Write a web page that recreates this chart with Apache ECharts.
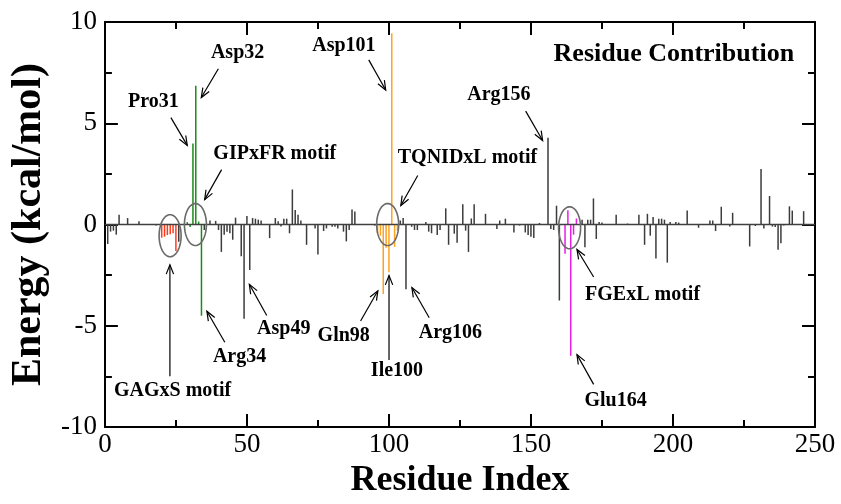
<!DOCTYPE html>
<html><head><meta charset="utf-8">
<script src="https://cdn.jsdelivr.net/npm/echarts@6/dist/echarts.min.js"></script>
<style>html,body{margin:0;padding:0;background:#fff}#c{width:841px;height:504px}</style>
</head><body><div id="c"></div>
<script>
// ---- data ----
const residues = [
  1,2,3,4,5,8,12,18,20,21,
  22,23,24,25,26,29,30,31,32,33,
  34,35,37,39,40,41,42,43,44,45,
  46,48,49,50,51,52,53,54,55,58,
  60,61,62,63,64,65,66,67,68,69,
  71,74,75,77,78,80,81,82,84,85,
  86,87,88,95,96,97,98,99,100,101,
  102,103,104,105,106,108,109,110,113,114,
  115,117,118,120,121,123,124,126,127,128,
  129,130,134,138,139,141,144,146,148,149,
  150,151,153,156,157,158,159,160,162,163,
  164,165,166,168,169,170,171,172,173,174,
  175,180,184,188,190,191,192,193,194,195,
  196,197,198,199,201,202,205,209,213,214,
  215,217,220,221,227,229,231,232,234,235,
  236,237,238,239,241,242,246
];
const energies = [
  -0.96,-0.35,-0.30,-0.50,0.48,0.32,0.16,-0.05,-0.65,-0.60,
  -0.52,-0.48,-0.43,-1.30,-0.85,0.12,-0.12,4.00,6.85,0.15,
  -4.50,-0.27,0.20,0.18,-0.27,-1.35,-0.50,-0.35,-0.43,-0.75,
  0.34,-1.56,-4.65,0.42,-2.24,0.32,0.29,0.24,0.20,-0.67,
  0.32,0.16,-0.10,0.29,0.29,-0.43,1.73,0.72,0.48,0.20,
  -1.00,-0.19,-1.48,-0.32,-0.19,-0.11,-0.11,-0.19,-0.35,-0.83,
  -0.27,0.74,0.64,-0.05,-0.45,-0.55,-3.43,-1.15,-2.35,9.45,
  -1.10,-0.30,0.20,0.32,-3.20,-0.11,-0.27,-0.27,0.13,-0.35,
  -0.43,-0.51,-0.27,0.80,-1.00,-0.45,-0.90,1.00,-0.30,-1.35,
  0.30,1.00,0.53,-0.22,0.20,0.29,-0.39,-0.05,-0.39,-0.51,
  -0.60,-0.67,0.08,4.28,-0.22,-0.27,0.93,-3.75,-1.44,0.70,
  -6.48,-0.50,0.30,0.24,-1.12,0.24,0.24,1.29,-0.71,0.13,
  0.10,0.48,0.05,0.48,-1.00,0.53,-0.55,0.37,-1.67,0.29,
  0.29,0.24,-1.88,0.13,0.13,0.10,0.69,-0.16,0.20,0.20,
  -0.32,0.88,-0.10,0.58,-1.08,-0.07,2.74,-0.20,1.41,-0.10,
  -0.12,-1.24,-0.92,-0.05,0.90,0.69,0.66
];
const redResidues = [20,21,22,23,24,25];
const greenResidues = [29,30,31,32,33,34];
const orangeResidues = [96,97,98,99,100,101,102,103];
const magentaResidues = [162,163,164,165,166];

const xTicks = [0,50,100,150,200,250];
const yTicks = [-10,-5,0,5,10];

// annotations (in data units: residue, energy)
const labelTexts = ['Asp32','Pro31','GIPxFR motif','GAGxS motif','Arg34','Asp49','Asp101','TQNIDxL motif','Gln98','Ile100','Arg106','Arg156','FGExL motif','Glu164'];
const labelAt = [[46.72,8.46],[17.09,6.05],[59.8,3.51],[23.83,-8.22],[47.41,-6.53],[62.98,-5.13],[84.15,8.82],[127.66,3.30],[84.08,-5.48],[102.83,-7.21],[121.65,-5.36],[138.71,6.39],[189.3,-3.48],[179.8,-8.72]];
const arrowFromTo = [[39.95,7.69,33.94,6.27],[23.24,5.28,29.0,3.91],[41.09,2.71,35.12,1.23],[22.89,-7.49,22.89,-1.99],[42.23,-5.81,35.91,-4.28],[56.98,-4.49,50.86,-2.95],[92.89,8.13,98.86,6.64],[110.15,2.42,104.18,0.94],[90.02,-4.76,96.1,-3.27],[100.03,-6.69,100.03,-2.52],[114.19,-4.6,108.08,-3.11],[148.14,5.6,154.11,4.15],[172.07,-2.59,166.2,-1.23],[172.07,-7.89,166.2,-6.42]];
const ellipseAt = [[22.96,-0.55],[31.87,0],[99.55,0],[163.6,-0.16]];
const chartTitle = 'Residue Contribution';
const chartTitleAt = [200.3, 8.43];

// ---- chart ----
const FONT = '"Liberation Serif","Times New Roman",serif';
function colorOf(r){
  if (redResidues.includes(r)) return '#ff3b1c';
  if (greenResidues.includes(r)) return '#1b8a1b';
  if (orangeResidues.includes(r)) return '#ffa21f';
  if (magentaResidues.includes(r)) return '#e81ee8';
  return null;
}
const grayData = [], colorData = [];
residues.forEach((r,i)=>{
  const c = colorOf(r);
  if (c) colorData.push({value:[r,energies[i]], itemStyle:{color:c}});
  else grayData.push([r,energies[i]]);
});

const chart = echarts.init(document.getElementById('c'), null, {renderer:'canvas'});
const axisCommon = {
  axisLine:{show:true,onZero:false,lineStyle:{color:'#000',width:2}},
  axisTick:{show:true,inside:true,length:13,lineStyle:{color:'#000',width:2}},
  minorTick:{show:true,splitNumber:2,length:7,lineStyle:{color:'#000',width:2}},
  splitLine:{show:false}, minorSplitLine:{show:false}
};
chart.setOption({
  animation:false,
  backgroundColor:'#fff',
  grid:{left:91,right:26,top:22,bottom:66,containLabel:false},
  xAxis:[
    Object.assign({type:'value',min:0,max:250,interval:50,position:'bottom',
      axisLabel:{fontFamily:FONT,fontSize:27,color:'#000',margin:4,
        formatter:v=>xTicks.includes(v)?String(v):''},
      name:'Residue Index',nameLocation:'middle',nameGap:30,
      nameTextStyle:{fontFamily:FONT,fontSize:36,fontWeight:'bold',color:'#000'}},axisCommon),
    Object.assign({type:'value',min:0,max:250,interval:50,position:'top',axisLabel:{show:false}},axisCommon)
  ],
  yAxis:[
    Object.assign({type:'value',min:-10,max:10,interval:5,position:'left',
      axisLabel:{fontFamily:FONT,fontSize:27,color:'#000',margin:8,
        formatter:v=>yTicks.includes(v)?String(v):''},
      name:'Energy (kcal/mol)',nameLocation:'middle',nameGap:38,
      nameTextStyle:{fontFamily:FONT,fontSize:42,fontWeight:'bold',color:'#000'}},axisCommon),
    Object.assign({type:'value',min:-10,max:10,interval:5,position:'right',axisLabel:{show:false}},axisCommon)
  ],
  series:[
    {type:'bar',xAxisIndex:0,yAxisIndex:0,barWidth:1.5,barGap:'-100%',data:grayData,itemStyle:{color:'#3c3c3c'},silent:true},
    {type:'bar',xAxisIndex:0,yAxisIndex:0,barWidth:1.5,barGap:'-100%',data:colorData,silent:true},
    {type:'line',xAxisIndex:0,yAxisIndex:0,data:[[0,0],[250,0]],symbol:'none',
      lineStyle:{color:'#404040',width:1.6},silent:true,z:3}
  ]
});

function px(r,v){ return chart.convertToPixel({xAxisIndex:0,yAxisIndex:0},[r,v]); }
const g = [];
ellipseAt.forEach(([r,v])=>{
  const c = px(r,v); const pts=[];
  for(let k=0;k<=72;k++){const t=k/72*2*Math.PI; pts.push([c[0]+11*Math.cos(t), c[1]+21*Math.sin(t)]);}
  g.push({type:'polyline',shape:{points:pts},style:{stroke:'#6a6a6a',lineWidth:1.6,fill:null},z:10});
});
arrowFromTo.forEach(([r1,v1,r2,v2])=>{
  const a=px(r1,v1), b=px(r2,v2);
  const ang=Math.atan2(b[1]-a[1], b[0]-a[0]);
  const L=10, h=0.38;
  const p1=[b[0]-L*Math.cos(ang-h), b[1]-L*Math.sin(ang-h)];
  const p2=[b[0]-L*Math.cos(ang+h), b[1]-L*Math.sin(ang+h)];
  g.push({type:'line',shape:{x1:a[0],y1:a[1],x2:b[0],y2:b[1]},style:{stroke:'#000',lineWidth:1.2},z:10});
  g.push({type:'polyline',shape:{points:[p1,b,p2]},style:{stroke:'#000',lineWidth:1.2,fill:null},z:10});
});
labelTexts.forEach((t,i)=>{
  const p=px(labelAt[i][0],labelAt[i][1]);
  g.push({type:'text',x:p[0],y:p[1],style:{text:t,fontFamily:FONT,fontSize:20,fontWeight:'bold',fill:'#000',align:'center',verticalAlign:'middle'},z:11});
});
const tp=px(chartTitleAt[0],chartTitleAt[1]);
g.push({type:'text',x:tp[0],y:tp[1],style:{text:chartTitle,fontFamily:FONT,fontSize:26,fontWeight:'bold',fill:'#000',align:'center',verticalAlign:'middle'},z:11});
chart.setOption({graphic:g});
</script>
</body></html>
